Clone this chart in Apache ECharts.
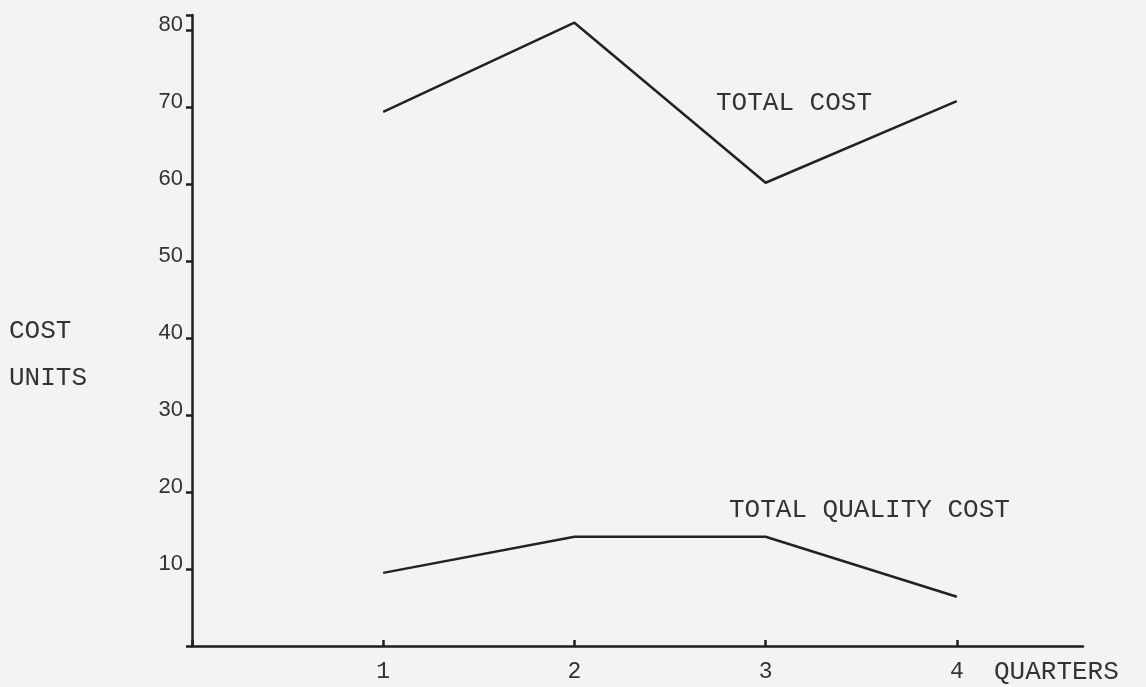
<!DOCTYPE html>
<html><head><meta charset="utf-8">
<script src="https://cdn.jsdelivr.net/npm/echarts@6/dist/echarts.min.js"></script>
<style>html,body{margin:0;padding:0;background:#f3f3f3}#c{width:1146px;height:687px}</style>
</head><body><div id="c"></div>
<script>
var quarters = [1, 2, 3, 4];
var totalCost = [69.4, 81.0, 60.2, 70.8];
var qualityCost = [9.5, 14.2, 14.2, 6.4];
var yTicks = [0, 10, 20, 30, 40, 50, 60, 70, 80];

var chart = echarts.init(document.getElementById('c'));
var mono = '"Liberation Mono","Courier New",monospace';
var sans = '"Liberation Sans","DejaVu Sans",sans-serif';
chart.setOption({
  backgroundColor: '#f3f3f3',
  animation: false,
  grid: {left: 192, right: 63, top: 15, bottom: 41},
  xAxis: {
    type: 'value', min: 0, max: 4.66, interval: 1,
    axisLine: {show: true, lineStyle: {color: '#1e1e1e', width: 2.5}},
    axisTick: {show: true, inside: true, length: 6, lineStyle: {color: '#1e1e1e', width: 2.5}},
    splitLine: {show: false},
    axisLabel: {
      fontFamily: mono, fontSize: 23, color: '#333', margin: 14,
      showMaxLabel: false,
      formatter: function (v) { return quarters.indexOf(v) >= 0 ? String(v) : ''; }
    }
  },
  yAxis: {
    type: 'value', min: 0, max: 82, interval: 10,
    axisLine: {show: true, lineStyle: {color: '#1e1e1e', width: 2.5}},
    axisTick: {show: true, length: 6, lineStyle: {color: '#1e1e1e', width: 2.5}},
    splitLine: {show: false},
    axisLabel: {
      color: '#333', margin: 9,
      formatter: function (v) { return (yTicks.indexOf(v) >= 0 && v > 0) ? '{n|' + v + '}' : ''; },
      rich: {n: {fontFamily: sans, fontSize: 22, color: '#333', padding: [0, 0, 10, 0]}}
    }
  },
  series: [
    {type: 'line', name: 'TOTAL COST', data: quarters.map(function (q, i) { return [q, totalCost[i]]; }),
     symbol: 'none', lineStyle: {color: '#222', width: 2.5}},
    {type: 'line', name: 'TOTAL QUALITY COST', data: quarters.map(function (q, i) { return [q, qualityCost[i]]; }),
     symbol: 'none', lineStyle: {color: '#222', width: 2.5}}
  ],
  graphic: [
    {type: 'text', left: 716, top: 90, style: {text: 'TOTAL COST', font: '26px ' + mono, fill: '#333'}},
    {type: 'text', left: 729, top: 497, style: {text: 'TOTAL QUALITY COST', font: '26px ' + mono, fill: '#333'}},
    {type: 'text', left: 9, top: 318, style: {text: 'COST', font: '26px ' + mono, fill: '#333'}},
    {type: 'text', left: 9, top: 365, style: {text: 'UNITS', font: '26px ' + mono, fill: '#333'}},
    {type: 'text', left: 994, top: 659, style: {text: 'QUARTERS', font: '26px ' + mono, fill: '#333', letterSpacing: 1}}
  ]
});
</script></body></html>
